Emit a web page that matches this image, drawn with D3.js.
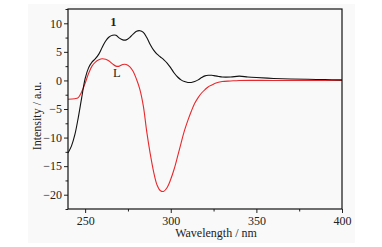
<!DOCTYPE html>
<html>
<head>
<meta charset="utf-8">
<script src="https://cdn.jsdelivr.net/npm/d3@7"></script>
<style>
  body { margin: 0; background: #fff; }
  svg text { font-family: "Liberation Serif", "Times New Roman", "DejaVu Serif", serif !important; }
</style>
</head>
<body>
<svg width="382" height="247"></svg>
<script>
// wavelength (nm) and intensity (a.u.)
var wl1 = [240,242,244,246,248,250,252,254,256,258,260,262,264,266,268,270,272,274,276,278,280,282,284,286,288,290,292,294,296,298,300,302,304,306,308,310,312,314,316,318,320,322,324,326,328,330,335,340,345,350,360,370,380,390,400];
var int1 = [-12.7,-11.5,-9.5,-6.5,-3,0.3,2.2,3.2,3.8,4.6,5.8,6.9,7.6,7.9,7.9,7.4,7.1,7.1,7.5,8.1,8.6,8.7,8.4,7.5,6.3,5.3,4.6,4.1,3.6,3.0,2.2,1.3,0.6,0.1,-0.2,-0.35,-0.35,-0.2,0.1,0.5,0.8,0.9,0.9,0.8,0.7,0.6,0.6,0.75,0.6,0.5,0.35,0.25,0.2,0.15,0.1];

var wlL = [240,244,246,248,250,252,254,256,258,260,262,264,266,268,270,272,274,276,278,280,282,284,286,288,290,292,294,296,298,300,302,304,306,308,310,312,314,316,318,320,322,324,326,330,335,340,360,380,400];
var intL = [-3.3,-3.2,-3.0,-2.0,-0.5,1.2,2.5,3.2,3.6,3.8,3.7,3.4,2.9,2.5,2.5,2.8,2.8,2.4,1.6,0.2,-1.6,-4.5,-9,-12.8,-16,-18.3,-19.3,-19.4,-18.7,-17.3,-15.5,-13.3,-11,-8.8,-7,-5.4,-4,-3,-2.2,-1.6,-1.1,-0.8,-0.5,-0.2,-0.1,0,0,0,0];

var xTicks = [250,300,350,400];
var yTicks = [10,5,0,-5,-10,-15,-20];

var svg = d3.select("svg");
var margin = {left: 68, right: 40, top: 9, bottom: 38};
var w = 382 - margin.left - margin.right,
    h = 247 - margin.top - margin.bottom;

// light paper background of the scanned figure
svg.append("rect").attr("x", 28).attr("y", 4).attr("width", 327).attr("height", 239)
    .attr("fill", "#f9f9f9");

var x = d3.scaleLinear().domain([240, 400]).range([0, w]);
var y = d3.scaleLinear().domain([-22.5, 12.5]).range([h, 0]);

var g = svg.append("g").attr("transform", "translate(" + margin.left + "," + margin.top + ")");

var line = d3.line()
    .x(function(d) { return x(d[0]); })
    .y(function(d) { return y(d[1]); })
    .curve(d3.curveCatmullRom);

g.append("path").datum(d3.zip(wlL, intL))
    .attr("d", line).attr("fill", "none").attr("stroke", "#e8282c").attr("stroke-width", 1.1);
g.append("path").datum(d3.zip(wl1, int1))
    .attr("d", line).attr("fill", "none").attr("stroke", "#111").attr("stroke-width", 1.1);

// axes
var xAxis = g.append("g").attr("transform", "translate(0," + h + ")")
    .call(d3.axisBottom(x).tickValues(xTicks).tickSize(4).tickPadding(3));
var xMinor = g.append("g").attr("transform", "translate(0," + h + ")")
    .call(d3.axisBottom(x).tickValues([275,325,375]).tickSize(2.5).tickFormat(""));
var yAxis = g.append("g")
    .call(d3.axisLeft(y).tickValues(yTicks).tickSize(4).tickPadding(2));
var yMinor = g.append("g")
    .call(d3.axisLeft(y).tickValues([12.5,7.5,2.5,-2.5,-7.5,-12.5,-17.5,-22.5]).tickSize(2.5).tickFormat(""));

[xAxis, xMinor, yAxis, yMinor].forEach(function(a) {
    a.attr("font-family", null);
    a.select(".domain").remove();
    a.selectAll("line").attr("stroke", "#222");
    a.selectAll("text").attr("font-size", 12).attr("fill", "#222");
});

// frame
g.append("rect").attr("width", w).attr("height", h)
    .attr("fill", "none").attr("stroke", "#111").attr("stroke-width", 1.2);

// curve labels
g.append("text").attr("x", x(266.5)).attr("y", y(9.6)).attr("text-anchor", "middle")
    .attr("font-size", 12.5).attr("font-weight", "bold").attr("fill", "#222").text("1");
g.append("text").attr("x", x(268.5)).attr("y", y(0.6)).attr("text-anchor", "middle")
    .attr("font-size", 12.5).attr("fill", "#222").text("L");

// axis titles
svg.append("text").attr("x", 216).attr("y", 237).attr("text-anchor", "middle")
    .attr("font-size", 12).attr("fill", "#222").text("Wavelength / nm");
svg.append("text").attr("transform", "translate(41,116) rotate(-90)")
    .attr("text-anchor", "middle").attr("font-size", 12).attr("fill", "#222")
    .text("Intensity / a.u.");
</script>
</body>
</html>
